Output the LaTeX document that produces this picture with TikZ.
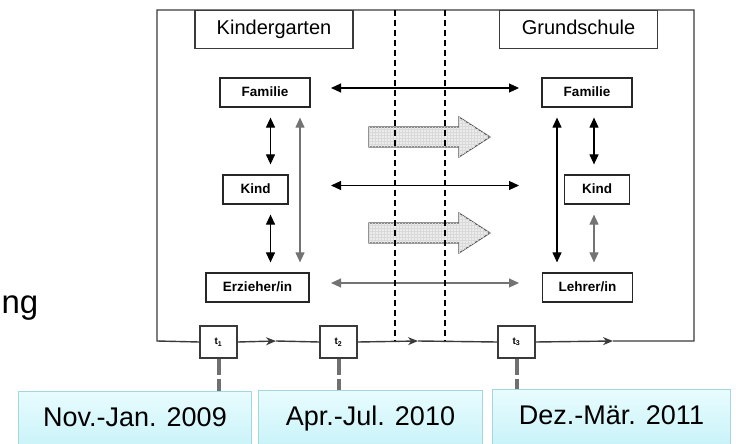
\documentclass[tikz,border=0pt]{standalone}
\usepackage{fontspec}
\setmainfont{Liberation Sans}
\usetikzlibrary{arrows.meta,patterns,positioning}
\definecolor{framegray}{HTML}{3A3A3A}
\definecolor{datetop}{HTML}{E8FCFE}
\definecolor{datebot}{HTML}{C9F3F9}
\definecolor{dateline}{HTML}{A3D6DE}
\definecolor{linkgray}{HTML}{707070}

\begin{document}
\begin{tikzpicture}[x=1pt,y=-1pt,>={Triangle[length=10pt,width=9pt]},line width=1.1pt,
		frame/.style={draw=framegray,line width=1.4pt},
		head box/.style={draw=framegray,line width=1.3pt,fill=white,anchor=north,minimum width=158pt,minimum height=38pt,inner sep=0pt,text height=14pt,text depth=4pt,font=\fontsize{20}{22}\selectfont},
		role box/.style={draw=black!85,line width=1.2pt,minimum height=29pt,inner sep=0pt,text height=10pt,text depth=2.5pt,font=\fontsize{13.5}{15}\selectfont\bfseries},
		t box/.style={draw=framegray,line width=1.2pt,fill=white,minimum width=37pt,minimum height=32pt,inner sep=0pt,font=\fontsize{10}{11}\selectfont\bfseries},
		date box/.style={draw=dateline,line width=1pt,top color=datetop,bottom color=datebot,anchor=north west,minimum height=55pt,inner sep=0pt,text height=20pt,text depth=5pt,font=\fontsize{27}{30}\selectfont},
		dbl/.style={<->,shorten <=10pt,shorten >=10pt},
		light/.style={draw=black!55},
		shift arrow/.style={draw=black!65,line width=1.1pt,fill=gray!15,postaction={pattern=grid,pattern color=gray!30}},
		phase line/.style={dashed,dash pattern=on 6pt off 4pt,line width=1.1pt},
		date link/.style={draw=linkgray,line width=4pt,dash pattern=on 16pt off 4pt},
		tick/.style={-{Stealth[length=10pt,width=8pt]}}]
		\useasboundingbox (0,0) rectangle (736,444);
		% Rahmen
		\coordinate (fbl) at (157,341);
		\coordinate (ftl) at (157,10);
		\coordinate (ftr) at (694,10);
		\coordinate (fbr) at (694,341);
		\coordinate (m1) at (276,341);
		\coordinate (m2) at (418,341);
		\coordinate (m3) at (613,341);
		\coordinate (xa) at (270.5,0);
		\coordinate (xb) at (300,0);
		\coordinate (xc) at (557,0);
		\coordinate (xd) at (594,0);
		\coordinate (hl) at (321,0);
		\coordinate (hr) at (529,0);
		
		\node[t box] (t1) at (218.5,342) {t\textsubscript{1}};
		\node[t box] (t2) at (338.5,342) {t\textsubscript{2}};
		\node[t box] (t3) at (516.5,342) {t\textsubscript{3}};
		
		\draw[frame] (t1.west) -- (fbl) -- (ftl) -- (ftr) -- (fbr) -- (m3);
		\draw[frame,tick] (t1.east) -- (m1);
		\draw[frame] (m1) -- (t2.west);
		\draw[frame,tick] (t2.east) -- (m2);
		\draw[frame] (m2) -- (t3.west);
		\draw[frame,tick] (t3.east) -- (m3);
		
		\node[head box] (kiga) at (274,10) {Kindergarten};
		\node[head box] (schule) at (578.5,10) {Grundschule};
		
		\node[role box,minimum width=90pt] (famK) at (265,92.5) {Familie};
		\node[role box,minimum width=65pt] (kindK) at (255.5,189.5) {Kind};
		\node[role box,minimum width=103pt] (erz) at (257.5,287.5) {Erzieher/in};
		\node[role box,minimum width=90pt] (famG) at (587,92.5) {Familie};
		\node[role box,minimum width=65pt] (kindG) at (597,189.5) {Kind};
		\node[role box,minimum width=90pt] (lehrer) at (587.5,287.5) {Lehrer/in};
		
		\path
		(famK.south -| xa) edge[dbl] (kindK.north -| xa)
		(kindK.south -| xa) edge[dbl] (erz.north -| xa)
		(famG.south -| xd) edge[dbl] (kindG.north -| xd)
		(famG.south -| xc) edge[dbl] (lehrer.north -| xc)
		([yshift=4.5pt]famK.center -| hl) edge[dbl] ([yshift=4.5pt]famG.center -| hr)
		([yshift=4pt]kindK.center -| hl) edge[dbl] ([yshift=4pt]kindG.center -| hr)
		(famK.south -| xb) edge[dbl,light] (erz.north -| xb)
		(kindG.south -| xd) edge[dbl,light] (lehrer.north -| xd)
		([yshift=4.5pt]erz.center -| hl) edge[dbl,light] ([yshift=4.5pt]lehrer.center -| hr);
		
		\foreach \y in {137,233}
		\draw[shift arrow] (369,\y-10) -- (459,\y-10) -- (459,\y-20) -- (490,\y) -- (459,\y+20) -- (459,\y+10) -- (369,\y+10) -- cycle;
		
		\draw[phase line] (395,10) -- (395,341);
		\draw[phase line] (445,10) -- (445,341);
		
		\node[date box,minimum width=233pt] (d1) at (18,391) {Nov.-Jan. 2009};
		\node[date box,minimum width=224pt] (d2) at (258,390) {Apr.-Jul. 2010};
		\node[date box,minimum width=238pt] (d3) at (492,389) {Dez.-Mär. 2011};
		
		\draw[date link] (t1.south) -- (t1.south |- d1.north);
		\draw[date link] (t2.south) -- (t2.south |- d2.north);
		\draw[date link] (t3.south) -- (t3.south |- d3.north);
		
		\node[anchor=base west,inner sep=0pt,font=\fontsize{33}{36}\selectfont] (rest) at (1,313) {ng};
\end{tikzpicture}
\end{document}
